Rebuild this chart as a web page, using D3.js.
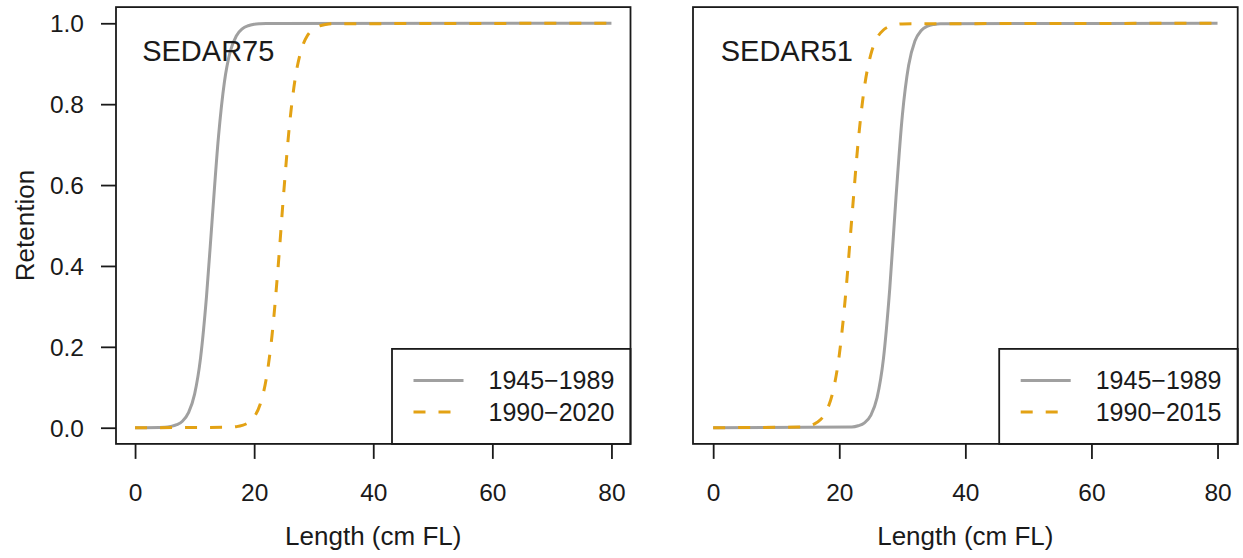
<!DOCTYPE html>
<html>
<head>
<meta charset="utf-8">
<script src="https://cdn.jsdelivr.net/npm/d3@7"></script>
<style>
  html, body { margin: 0; padding: 0; background: #fff; }
  svg { display: block; }
  text { font-family: "Liberation Sans", Arial, Helvetica, sans-serif; fill: #1a1a1a; }
</style>
</head>
<body>
<svg id="chart" width="1243" height="558"></svg>
<script>
// ---- data ----
const panelLabels = ["SEDAR75", "SEDAR51"];
const legend75 = ["1945\u22121989", "1990\u22122020"];
const legend51 = ["1945\u22121989", "1990\u22122015"];
const xTicks = [0, 20, 40, 60, 80];
const yTicks = [0, 0.2, 0.4, 0.6, 0.8, 1.0];
const xTitle = "Length (cm FL)";
const yTitle = "Retention";

// SEDAR75, 1945-1989 (grey solid)
const len75a = [0, 5, 6, 7, 8, 9, 10, 11, 12, 13, 14, 15, 16, 17, 18, 19, 20, 21, 22, 80];
const ret75a = [0, 0.0014, 0.0032, 0.0074, 0.0168, 0.0379, 0.0832, 0.1727, 0.3245, 0.525, 0.7178, 0.854, 0.9309, 0.9687, 0.9862, 0.9939, 0.9974, 0.9988, 0.9995, 1];
// SEDAR75, 1990-2020 (orange dashed)
const len75b = [0, 16, 17, 18, 19, 20, 21, 22, 23, 24, 25, 26, 27, 28, 29, 30, 31, 32, 33, 80];
const ret75b = [0, 0.0012, 0.0026, 0.0057, 0.0125, 0.027, 0.0576, 0.1184, 0.228, 0.3934, 0.5876, 0.758, 0.8731, 0.938, 0.9708, 0.9865, 0.9938, 0.9972, 0.9987, 1];
// SEDAR51, 1945-1989 (grey solid)
const len51a = [0, 22, 23, 24, 25, 26, 27, 28, 29, 30, 31, 32, 33, 34, 35, 36, 80];
const ret51a = [0, 0.0019, 0.0048, 0.0122, 0.0305, 0.0743, 0.1695, 0.3421, 0.5696, 0.7712, 0.8957, 0.9562, 0.9823, 0.993, 0.9972, 0.9989, 1];
// SEDAR51, 1990-2015 (orange dashed)
const len51b = [0, 14, 15, 16, 17, 18, 19, 20, 21, 22, 23, 24, 25, 26, 27, 28, 29, 30, 80];
const ret51b = [0, 0.0018, 0.004, 0.0088, 0.0195, 0.0423, 0.0895, 0.1795, 0.3274, 0.52, 0.7068, 0.8429, 0.9228, 0.9637, 0.9834, 0.9925, 0.9966, 0.9985, 1];

// ---- styling ----
const GREY = "#a0a0a0";
const ORANGE = "#e3a214";
const svg = d3.select("#chart");

const panels = [
  { label: panelLabels[0], legend: legend75, x0: 116, x1: 630.5, yAxis: true,
    series: [{ x: len75a, y: ret75a, color: GREY, dash: null },
             { x: len75b, y: ret75b, color: ORANGE, dash: "12,13" }] },
  { label: panelLabels[1], legend: legend51, x0: 693, x1: 1237.7, yAxis: false,
    series: [{ x: len51a, y: ret51a, color: GREY, dash: null },
             { x: len51b, y: ret51b, color: ORANGE, dash: "12,13" }] }
];

const plotTop = 7.1, plotBottom = 443.9;
const yScale = d3.scaleLinear().domain([-0.04, 1.04]).range([plotBottom, plotTop]);

panels.forEach(p => {
  const x = d3.scaleLinear().domain([-3.2, 83.2]).range([p.x0, p.x1]);
  const g = svg.append("g");

  // curves
  const line = d3.line().x(d => x(d[0])).y(d => yScale(d[1])).curve(d3.curveMonotoneX);
  p.series.forEach(s => {
    const pts = s.x.map((v, i) => [v, s.y[i]]);
    g.append("path").attr("d", line(pts))
      .attr("fill", "none").attr("stroke", s.color).attr("stroke-width", 3)
      .attr("stroke-dasharray", s.dash);
  });

  // x axis
  const xa = g.append("g").attr("transform", `translate(0,${plotBottom})`)
    .call(d3.axisBottom(x).tickValues(xTicks).tickSize(15).tickSizeOuter(0).tickPadding(0).tickFormat(d3.format("d")));
  xa.select(".domain").remove();
  xa.selectAll(".tick line").attr("stroke", "#1a1a1a").attr("stroke-width", 1.8);
  xa.selectAll(".tick text").attr("y", 57).attr("dy", null)
    .style("font-size", "24.5px").attr("fill", "#1a1a1a");

  // y axis
  if (p.yAxis) {
    const ya = g.append("g").attr("transform", `translate(${p.x0},0)`)
      .call(d3.axisLeft(yScale).tickValues(yTicks).tickSize(15).tickSizeOuter(0).tickPadding(0).tickFormat(d3.format(".1f")));
    ya.select(".domain").remove();
    ya.selectAll(".tick line").attr("stroke", "#1a1a1a").attr("stroke-width", 1.8);
    ya.selectAll(".tick text").attr("x", -32).attr("dy", "0.35em")
      .style("font-size", "24.5px").attr("fill", "#1a1a1a");
    svg.append("text")
      .attr("transform", `translate(34,${(plotTop + plotBottom) / 2}) rotate(-90)`)
      .attr("text-anchor", "middle").style("font-size", "26px").text(yTitle);
  }

  // x title
  g.append("text").attr("x", (p.x0 + p.x1) / 2).attr("y", 545)
    .attr("text-anchor", "middle").style("font-size", "26px").text(xTitle);

  // panel label
  g.append("text").attr("x", x(1.2)).attr("y", 61)
    .style("font-size", "29px").text(p.label);

  // legend (bottom right)
  const lw = 238.5, lh = 95;
  const lx = p.x1 - lw, ly = plotBottom - lh;
  const lg = g.append("g");
  lg.append("rect").attr("x", lx).attr("y", ly).attr("width", lw).attr("height", lh)
    .attr("fill", "#fff").attr("stroke", "#1a1a1a").attr("stroke-width", 1.8);
  const rows = [ly + 31.5, ly + 63];
  p.series.forEach((s, i) => {
    lg.append("line").attr("x1", lx + 21.5).attr("x2", lx + 71.5)
      .attr("y1", rows[i]).attr("y2", rows[i])
      .attr("stroke", s.color).attr("stroke-width", 3).attr("stroke-dasharray", s.dash);
    lg.append("text").attr("x", lx + 96.5).attr("y", rows[i] + 9)
      .style("font-size", "25px").text(p.legend[i]);
  });

  // box
  g.append("rect").attr("x", p.x0).attr("y", plotTop).attr("width", p.x1 - p.x0).attr("height", plotBottom - plotTop)
    .attr("fill", "none").attr("stroke", "#1a1a1a").attr("stroke-width", 1.8);
});
</script>
</body>
</html>
